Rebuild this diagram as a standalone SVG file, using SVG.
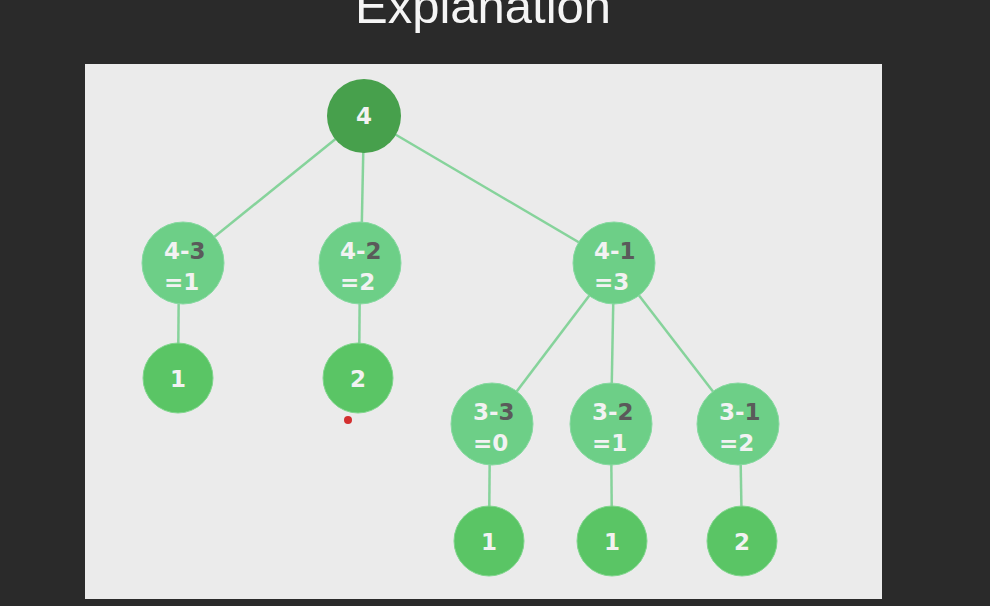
<svg xmlns="http://www.w3.org/2000/svg" width="990" height="606" viewBox="0 0 990 606">
<style>
.e{stroke:#86d39b;stroke-width:2.5;fill:none}
.root{fill:#47a04c}
.mid{fill:#6dcf87;stroke:#86d9a0;stroke-width:1}
.leaf{fill:#5ac565;stroke:#7fd68c;stroke-width:1}
.t{font-family:"DejaVu Sans",sans-serif;font-weight:bold;font-size:23px;fill:#f2f2f2}
.c{text-anchor:middle}
.d{fill:#5a5a5a}
</style>
<rect width="990" height="606" fill="#2a2a2a"/>
<text x="483" y="23" font-family="Liberation Sans, Arial, sans-serif" font-size="49" fill="#f5f5f5" text-anchor="middle">Explanation</text>
<rect x="85" y="64" width="797" height="535" fill="#ebebeb"/>
<g id="edges">
<line class="e" x1="364" y1="116" x2="182" y2="263"/>
<line class="e" x1="364" y1="116" x2="361" y2="263"/>
<line class="e" x1="364" y1="116" x2="614" y2="263"/>
<line class="e" x1="179" y1="263" x2="178" y2="378"/>
<line class="e" x1="360" y1="263" x2="359" y2="378"/>
<line class="e" x1="614" y1="263" x2="492" y2="424"/>
<line class="e" x1="614" y1="263" x2="611" y2="424"/>
<line class="e" x1="614" y1="263" x2="738" y2="424"/>
<line class="e" x1="490" y1="424" x2="489" y2="541"/>
<line class="e" x1="611" y1="424" x2="612" y2="541"/>
<line class="e" x1="740" y1="424" x2="742" y2="541"/>
</g>
<g id="n-root"><circle class="root" cx="364" cy="116" r="37"/><text class="t c" x="364" y="124">4</text></g>
<g id="n-43"><circle class="mid" cx="183" cy="263" r="41"/><text class="t" x="164" y="259">4-<tspan class="d">3</tspan></text><text class="t" x="164" y="290">=1</text></g>
<g id="n-42"><circle class="mid" cx="360" cy="263" r="41"/><text class="t" x="340" y="259">4-<tspan class="d">2</tspan></text><text class="t" x="340" y="290">=2</text></g>
<g id="n-41"><circle class="mid" cx="614" cy="263" r="41"/><text class="t" x="594" y="259">4-<tspan class="d">1</tspan></text><text class="t" x="594" y="290">=3</text></g>
<g id="n-l1"><circle class="leaf" cx="178" cy="378" r="35"/><text class="t c" x="178" y="387">1</text></g>
<g id="n-l2"><circle class="leaf" cx="358" cy="378" r="35"/><text class="t c" x="358" y="387">2</text></g>
<g id="n-33"><circle class="mid" cx="492" cy="424" r="41"/><text class="t" x="473" y="420">3-<tspan class="d">3</tspan></text><text class="t" x="473" y="451">=0</text></g>
<g id="n-32"><circle class="mid" cx="611" cy="424" r="41"/><text class="t" x="592" y="420">3-<tspan class="d">2</tspan></text><text class="t" x="592" y="451">=1</text></g>
<g id="n-31"><circle class="mid" cx="738" cy="424" r="41"/><text class="t" x="719" y="420">3-<tspan class="d">1</tspan></text><text class="t" x="719" y="451">=2</text></g>
<g id="n-b1"><circle class="leaf" cx="489" cy="541" r="35"/><text class="t c" x="489" y="550">1</text></g>
<g id="n-b2"><circle class="leaf" cx="612" cy="541" r="35"/><text class="t c" x="612" y="550">1</text></g>
<g id="n-b3"><circle class="leaf" cx="742" cy="541" r="35"/><text class="t c" x="742" y="550">2</text></g>
<circle cx="348" cy="420" r="4" fill="#d32f2f"/>
</svg>
